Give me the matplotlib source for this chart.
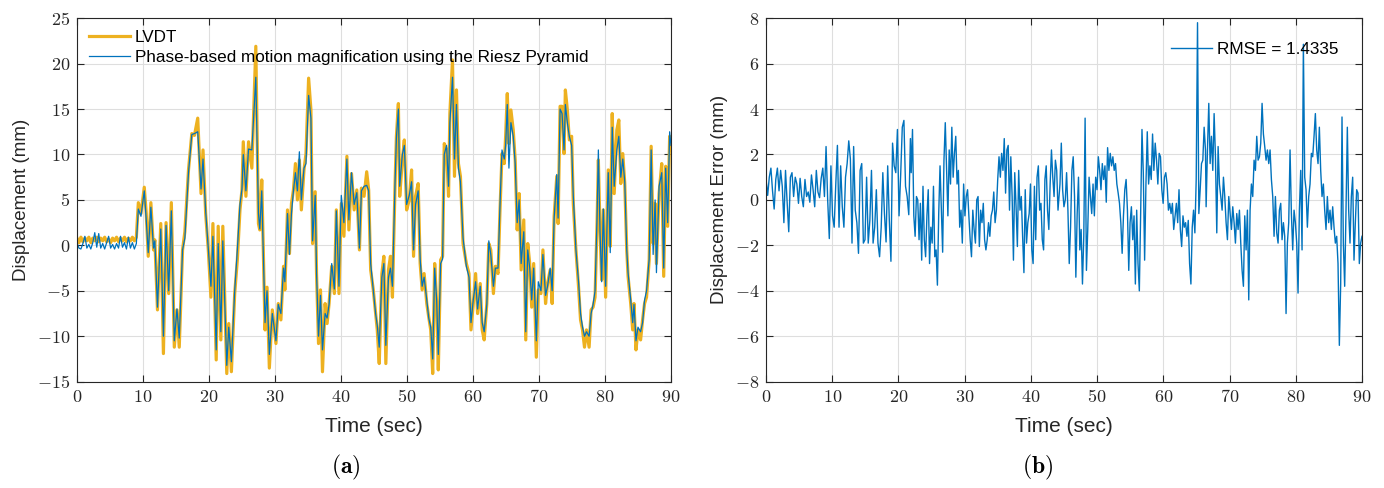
import numpy as np
import matplotlib.pyplot as plt
from matplotlib.ticker import FuncFormatter

plt.rcParams['mathtext.fontset'] = 'cm'
plt.rcParams['font.family'] = ['Liberation Sans', 'DejaVu Sans']

# ---- panel (a): displacement time histories ----
t_quiet = [0.0, 0.3, 0.6, 0.9, 1.2, 1.5, 1.8, 2.1, 2.4, 2.7, 3.0, 3.3, 3.6, 3.9, 4.2, 4.5,
           4.8, 5.1, 5.4, 5.7, 6.0, 6.3, 6.6, 6.9, 7.2, 7.5, 7.8, 8.1, 8.4, 8.7, 9.0]
lvdt_quiet = [0.8, 0.3, 0.9, 0.4, 0.8, 0.5, 0.9, 0.3, 0.8, 0.5, 0.9, 0.4, 0.8, 0.5, 0.9, 0.4,
              0.7, 0.3, 0.8, 0.5, 0.9, 0.4, 0.8, 0.5, 0.9, 0.4, 0.8, 0.5, 0.9, 0.5, 0.9]
phase_quiet = [0.3, -0.3, -0.4, 0.2, 1.0, -0.3, 0.1, -0.4, 0.3, 1.4, -0.2, 1.3, -0.3, 0.2, -0.4, 0.3,
               1.0, -0.3, 0.1, -0.4, 0.2, -0.3, 1.0, -0.2, 0.3, -0.4, 0.9, -0.3, 0.3, -0.4, 0.2]

t_shake = [9.3, 9.7, 10.2, 10.5, 10.8, 11.2, 11.6, 11.8, 12.2, 12.7, 13.1, 13.5, 13.9, 14.3, 14.75,
           15.15, 15.5, 16.0, 16.35, 16.9, 17.4, 17.8, 18.3, 18.8, 19.1, 19.5, 19.9, 20.3, 20.6,
           21.1, 21.4, 21.8, 22.1, 22.7, 23.0, 23.4, 23.9, 24.3, 24.7, 25.0, 25.2, 25.6, 26.0,
           26.5, 27.1, 27.5, 27.7, 28.0, 28.5, 28.8, 29.15, 29.6, 30.15, 30.5, 30.9, 31.3, 31.5,
           31.9, 32.2, 32.5, 32.8, 33.1, 33.4, 33.7, 34.0, 34.4, 34.7, 35.1, 35.45, 35.7, 36.1,
           36.3, 36.6, 36.9, 37.2, 37.6, 37.9, 38.2, 38.6, 39.0, 39.3, 39.7, 40.05, 40.45, 40.9,
           41.2, 41.6, 42.0, 42.4, 42.8, 43.1, 43.5, 43.9, 44.2, 44.5, 44.9, 45.25, 45.5, 45.8,
           46.2, 46.5, 46.8, 47.2, 47.5, 47.8, 48.2, 48.4, 48.7, 48.9, 49.3, 49.6, 49.95, 50.35,
           50.7, 51.0, 51.3, 51.7, 52.0, 52.3, 52.6, 53.0, 53.3, 53.6, 53.9, 54.2, 54.5, 54.75,
           55.1, 55.4, 55.65, 56.0, 56.3, 56.5, 56.9, 57.2, 57.5, 57.8, 58.1, 58.5, 59.0, 59.4,
           59.7, 60.05, 60.4, 60.7, 61.1, 61.4, 61.7, 62.1, 62.4, 62.7, 63.1, 63.4, 63.8, 64.1,
           64.4, 64.75, 64.95, 65.2, 65.45, 65.75, 66.1, 66.4, 66.7, 67.0, 67.3, 67.7, 68.0,
           68.3, 68.6, 68.9, 69.2, 69.6, 69.9, 70.3, 70.6, 71.0, 71.3, 71.7, 72.0, 72.3, 72.7,
           72.9, 73.2, 73.5, 73.8, 74.0, 74.3, 74.6, 74.95, 75.2, 75.6, 76.0, 76.3, 76.6, 76.9,
           77.2, 77.6, 77.9, 78.2, 78.5, 78.8, 79.0, 79.25, 79.5, 79.75, 80.1, 80.5, 80.8, 81.1,
           81.4, 81.8, 82.1, 82.4, 82.7, 83.0, 83.3, 83.5, 83.9, 84.2, 84.4, 84.7, 85.0, 85.4,
           85.7, 86.0, 86.3, 86.7, 87.0, 87.3, 87.6, 87.8, 88.2, 88.6, 88.9, 89.2, 89.5, 89.8, 90.0]
lvdt_shake = [4.7, 3.5, 6.4, 3.5, -1.2, 4.7, -0.5, 0.6, -7.1, 2.4, -11.9, 2.5, -5.3, 4.7, -11.2,
              -7.1, -11.2, -0.5, 1.5, 8.3, 12.3, 12.1, 14.0, 5.7, 10.5, 3.5, -0.5, -5.7, 2.4,
              -12.6, 2.1, -10.4, 2.1, -14.1, -8.6, -13.9, -5.3, -1.6, 3.9, 6.1, 11.4, 5.4, 11.4,
              8.5, 21.9, 2.4, 1.7, 7.2, -9.3, -4.6, -13.5, -7.1, -10.8, -6.4, -8.2, -2.3, -4.9,
              3.9, -0.9, 4.6, 6.1, 9.0, 5.0, 9.4, 3.9, 8.3, 10.1, 18.4, 14.9, 0.2, 5.9,
              -3.1, -10.8, -4.9, -13.9, -6.4, -8.6, -6.4, -2.3, -5.3, 3.9, -5.3, 4.6, 1.0, 9.8,
              1.7, 7.9, 3.9, 6.1, -0.5, 6.3, 5.4, 8.1, 6.1, -2.7, -4.9, -7.5, -9.3, -13.0,
              -3.1, -1.2, -13.0, -2.7, -1.2, -5.7, 6.8, 12.0, 15.6, 5.4, 9.4, 11.6, 3.9, 5.0,
              8.3, -1.2, 5.4, 6.8, -2.0, -4.9, -3.1, -6.4, -7.9, -9.3, -14.1, -2.0, -6.4, -13.7,
              -1.6, -1.2, 11.2, 10.5, 5.4, 14.5, 20.4, 7.6, 17.1, 9.0, 7.6, 0.2, -2.0, -3.1,
              -9.3, -6.4, -3.1, -7.5, -4.2, -9.3, -10.4, -6.4, 0.2, -0.5, -5.3, -2.3, -3.1, 3.9,
              10.1, 9.0, 12.0, 16.7, 11.2, 14.9, 12.7, 9.4, 1.7, 5.7, -2.7, 2.8, -10.4,
              0.2, -2.0, -6.8, -2.0, -12.3, -4.9, -5.3, -0.5, -6.4, -4.2, -2.7, -6.4, 3.2, 7.6,
              2.4, 15.3, 15.3, 10.1, 17.1, 14.9, 11.6, 12.0, 4.6, -0.5, -4.6, -8.2, -9.3, -11.2,
              -9.3, -11.2, -7.1, -6.8, -5.7, 2.4, 9.4, 1.7, -3.8, 3.9, -5.7, 8.3, -0.1, 14.5,
              5.7, 12.7, 13.8, 6.8, 10.1, 6.8, -0.5, -3.4, -6.4, -9.3, -6.4, -11.5, -9.3, -10.4,
              -8.2, -6.4, -5.7, -1.6, 10.9, 0.2, 4.6, -2.0, 5.7, 9.0, -3.4, 8.7, 2.1, 12.0, 10.5]
phase_shake = [4.0, 3.2, 6.0, 2.8, -0.8, 4.2, -0.3, 0.5, -6.8, 1.8, -10.0, 2.2, -5.0, 3.8, -10.5,
               -7.0, -10.2, -0.5, 0.8, 8.0, 12.2, 12.3, 12.5, 6.2, 9.5, 3.8, -0.3, -4.5, 1.0,
               -11.5, 0.2, -9.5, 0.5, -13.2, -9.0, -12.8, -5.0, -0.5, 4.5, 6.2, 10.0, 6.0, 10.6,
               10.5, 18.5, 3.5, 1.8, 6.0, -8.5, -5.0, -12.0, -7.5, -10.5, -6.5, -7.5, -2.5, -4.0,
               3.5, -1.0, 3.5, 6.0, 8.0, 6.0, 10.3, 5.0, 8.5, 9.0, 16.5, 14.0, 0.5, 5.5,
               -3.0, -10.0, -5.5, -11.5, -7.5, -8.0, -6.5, -2.0, -4.8, 3.8, -4.5, 5.5, 2.5, 9.5,
               2.8, 8.0, 4.5, 5.8, -0.3, 6.0, 6.5, 6.6, 6.0, -2.0, -5.0, -7.5, -8.8, -11.2,
               -3.5, -2.0, -11.0, -3.5, -2.5, -4.5, 7.0, 11.8, 15.0, 6.5, 10.0, 11.0, 4.5, 5.5,
               7.0, -0.5, 4.5, 6.0, -1.5, -4.5, -3.5, -6.0, -8.0, -9.0, -12.5, -2.5, -6.0, -12.0,
               -2.0, -1.5, 10.0, 11.0, 6.5, 13.5, 18.5, 9.5, 15.5, 8.5, 7.0, 0.8, -2.3, -3.5,
               -8.5, -6.0, -4.0, -7.0, -4.5, -8.5, -9.5, -6.5, 0.5, -1.0, -4.5, -2.5, -2.5, 4.5,
               10.5, 9.5, 11.0, 15.5, 8.5, 13.5, 12.0, 9.0, 2.5, 5.0, -2.0, 1.5, -9.5,
               -0.5, -2.5, -6.0, -2.5, -10.5, -4.0, -5.0, -1.0, -5.5, -4.5, -2.5, -5.0, 3.0, 7.8,
               3.0, 15.0, 14.5, 10.5, 15.5, 13.5, 12.0, 11.0, 5.5, -0.5, -4.0, -7.5, -9.0, -10.0,
               -9.5, -10.0, -7.5, -6.5, -5.0, 3.0, 10.5, 1.5, -4.0, 4.0, -4.5, 8.0, -0.8, 13.0,
               6.5, 10.5, 12.0, 7.5, 9.5, 7.0, -0.5, -3.0, -6.0, -8.5, -6.5, -10.5, -9.0, -9.5,
               -8.5, -6.0, -5.0, -1.5, 10.5, -1.0, 5.0, -3.0, 6.5, 8.0, -2.5, 8.5, 2.5, 12.5, 11.0]

time_a = t_quiet + t_shake
lvdt = lvdt_quiet + lvdt_shake
phase = phase_quiet + phase_shake

# ---- panel (b): displacement error, read in four stretches ----
err_seg1 = [0.9, 0.2, 1.0, 1.4, 0.4, -0.4, 0.9, 1.4, 0.4, 1.3, 0.6, -1.0, 1.3, -0.1, -1.4, 1.0,
            1.2, 0.15, 1.0, 0.7, -0.15, 0.95, 0.15, -0.3, 0.9, 0.15, 0.35, -0.1, 1.1, 0.45, -0.3,
            1.3, 0.35, 0.1, 0.95, 1.4, 0.15, 2.35, 0.0, -1.7, 1.5,
            -0.7, -1.2, 0.7, 2.4, -1.2, 1.5, -0.3, -1.2, 1.0, 1.6, 2.6, 1.8, -1.9, 2.35, -0.45,
            -1.0, -2.35, 1.3, 1.6, -1.9, -1.75, 1.0, -1.9, -0.9, 1.3, -1.9, -1.2, 0.45, -1.9,
            -2.5, -1.2, 1.2, -0.6, -1.85, 1.5, -0.9, -2.7, 2.5, 1.5, 1.2, 3.1, -0.7,
            1.1, 3.2, 3.5, 0.6, 0.15, -0.65, 2.7]
err_seg2 = [1.2, 3.1, -0.7, -1.6, 0.15, 0.0, -1.75, -0.15, -2.65, 0.6, -1.75, -2.5, -0.7, 0.45,
            -2.8, -1.2, -1.9, 0.6, -2.5, -2.2, -3.75, -0.6, 1.5, -0.45, -2.3, 1.75, 3.4, 1.3,
            -0.7, 2.2, 0.7, 3.2, 1.0, 2.05, 2.8, 0.7, 1.3, -1.2, -0.45, -1.9, 0.7, -0.7, 0.15,
            0.45, -0.7, -1.75, -2.5, -0.45, -1.3, -1.9, 0.0, 0.15, -2.05, -0.45, -1.0, -0.15,
            -1.75, -2.2, -1.75, -1.0, -1.6, -0.7, -0.45, 0.35, -1.0, -0.45, 0.9, 1.9, 1.0, 2.05,
            1.3, 2.7, 0.3, 2.2, 2.4, -0.45, 1.9, 0.15, -2.65, 1.2, -0.3, -2.05, 1.3, -0.45, 0.15,
            -1.6, -3.2, 0.45, -1.9, -1.0, -0.6, 0.7, -2.2, -2.8, 0.6, -1.75, 1.0, 1.5, -0.45,
            -0.15, -1.75, -2.2, 0.9, 1.5, -0.45, -1.3, 0.7, 2.2, 1.0, 0.15, 1.75, 1.3, -0.45, 0.3]
err_seg3 = [0.7, 2.5, 0.45, -0.3, 0.0, 1.2, -0.45, -2.8, -1.2, 1.3, 1.9, 0.15, -3.4, -0.6, 1.0,
            -2.2, -1.3, -3.7, -1.6, 3.6, -3.1, -1.3, 1.0, 0.15, -0.6, 0.7, -0.7, 1.0, 0.45, 1.9,
            1.3, 0.45, 1.6, 0.9, 1.5, -0.1, 2.3, 1.3, 2.05, 1.5, 1.9, 1.3, 1.6, 0.7, 0.3, -0.15,
            -1.0, -2.35, -0.7, 0.45, 0.9, -0.45, -3.1, -1.0, -0.3, -1.75, -0.7, -3.7, -0.45,
            -2.8, -4.0, -0.6, 3.1, 1.2, -2.65, 0.7, 3.0, 0.7, 1.5, 0.9, 2.9, 1.3, 2.5, 1.75, 0.7,
            2.05, 1.9, 0.45, -0.15, 1.0, 1.2, 0.7, -0.45, -0.15, -0.6, -0.15, -1.3, -0.7, -0.15,
            -1.0, 0.45, -1.3, -2.05, -0.7, -1.2, -1.0, -1.6, -0.9, -2.8, -3.7, -1.2, -0.45,
            -1.45, 0.9, 7.8, -0.6, 0.45, 1.6, 1.75, 3.2, 2.2]
err_seg4 = [-0.3, 2.2, 4.25, 1.6, 2.8, 1.3, 3.8, 1.9, -1.45, 2.35, 0.7, 0.15, -0.45, 1.0, 0.15,
            -1.0, -1.75, 0.15, -0.6, -1.3, -0.3, -1.0, -1.9, -0.6, -1.3, -0.45, -1.9, -3.1, -3.8,
            -0.7, -2.2, -0.45, -4.4, -0.45, 0.7, 0.15, 1.75, 1.3, 2.8, 1.75, 1.9, 2.5, 4.25, 2.9,
            2.35, 1.75, 2.2, 1.6, 2.2, 0.9, 0.15, -1.6, 0.15, -1.45, -1.9, -0.45, -0.15, -1.75,
            -1.0, -1.6, -5.0, -1.9, -1.0, 2.2, -0.6, -2.2, -0.45, -1.0, -1.9, -4.1, -0.45, 1.3,
            -2.2, 6.85, 1.0, 0.45, -1.2, 0.15, 0.7, 2.05, 1.9, 2.8, 3.8, 2.2, 1.6, 3.2, 1.3, 0.15,
            0.7, -0.45, -1.3, 0.15, -1.0, -0.45, -1.3, -0.3, -1.2, -1.9, -1.6, -2.8, -6.4, -3.7,
            3.65, -1.9, -3.8, -0.45, 3.2, -0.45, -1.9, 0.15, 1.0, -2.65, -1.0, 0.45, 0.3, -2.8,
            -1.9, -1.6]
seg_spans = [(0.0, 21.8), (21.92, 44.29), (44.39, 66.36), (66.46, 90.0)]

err_time = np.concatenate([np.linspace(a, b, len(v)) for (a, b), v in
                           zip(seg_spans, [err_seg1, err_seg2, err_seg3, err_seg4])])
err = np.concatenate([err_seg1, err_seg2, err_seg3, err_seg4])

# ---- figure ----
orange = '#EDB120'
blue = '#0072BD'
dark = '#262626'

fig = plt.figure(figsize=(13.84, 4.88), dpi=100)
ax1 = fig.add_axes([0.0556, 0.2178, 0.4292, 0.745])
ax2 = fig.add_axes([0.5535, 0.2178, 0.4306, 0.745])

ax1.plot(time_a, lvdt, color=orange, lw=2.3, label='LVDT')
ax1.plot(time_a, phase, color=blue, lw=0.9,
         label='Phase-based motion magnification using the Riesz Pyramid')
ax2.plot(err_time, err, color=blue, lw=1.0, label='RMSE = 1.4335')

tex = FuncFormatter(lambda v, p: f'${v:g}$')
for ax in (ax1, ax2):
    ax.set_xlim(0, 90)
    ax.set_xticks(range(0, 91, 10))
    ax.grid(True, color='#dedede', lw=0.8)
    ax.set_axisbelow(True)
    ax.tick_params(direction='in', top=True, right=True, length=5, width=0.8,
                   labelsize=13, colors=dark, pad=5)
    ax.xaxis.set_major_formatter(tex)
    ax.yaxis.set_major_formatter(tex)
    for s in ax.spines.values():
        s.set_color(dark)
        s.set_linewidth(0.8)
    ax.set_xlabel('Time (sec)', fontsize=15, color=dark, labelpad=8)

ax1.set_ylim(-15, 25)
ax1.set_yticks(range(-15, 26, 5))
ax1.set_ylabel('Displacement (mm)', fontsize=13.5, color=dark, labelpad=5)
ax1.legend(loc='upper left', frameon=False, fontsize=12.3, handlelength=2.4,
           borderaxespad=0.3, labelspacing=0.3, handletextpad=0.3)

ax2.set_ylim(-8, 8)
ax2.set_yticks(range(-8, 9, 2))
ax2.set_ylabel('Displacement Error (mm)', fontsize=13.5, color=dark, labelpad=5)
ax2.legend(loc='upper right', frameon=False, fontsize=12.3, handlelength=2.4,
           borderaxespad=1.0, handletextpad=0.3)

fig.text(0.25, 0.043, r'$(\mathbf{a})$', ha='center', va='center', fontsize=17)
fig.text(0.75, 0.043, r'$(\mathbf{b})$', ha='center', va='center', fontsize=17)

fig.savefig('out.png', dpi=100)
